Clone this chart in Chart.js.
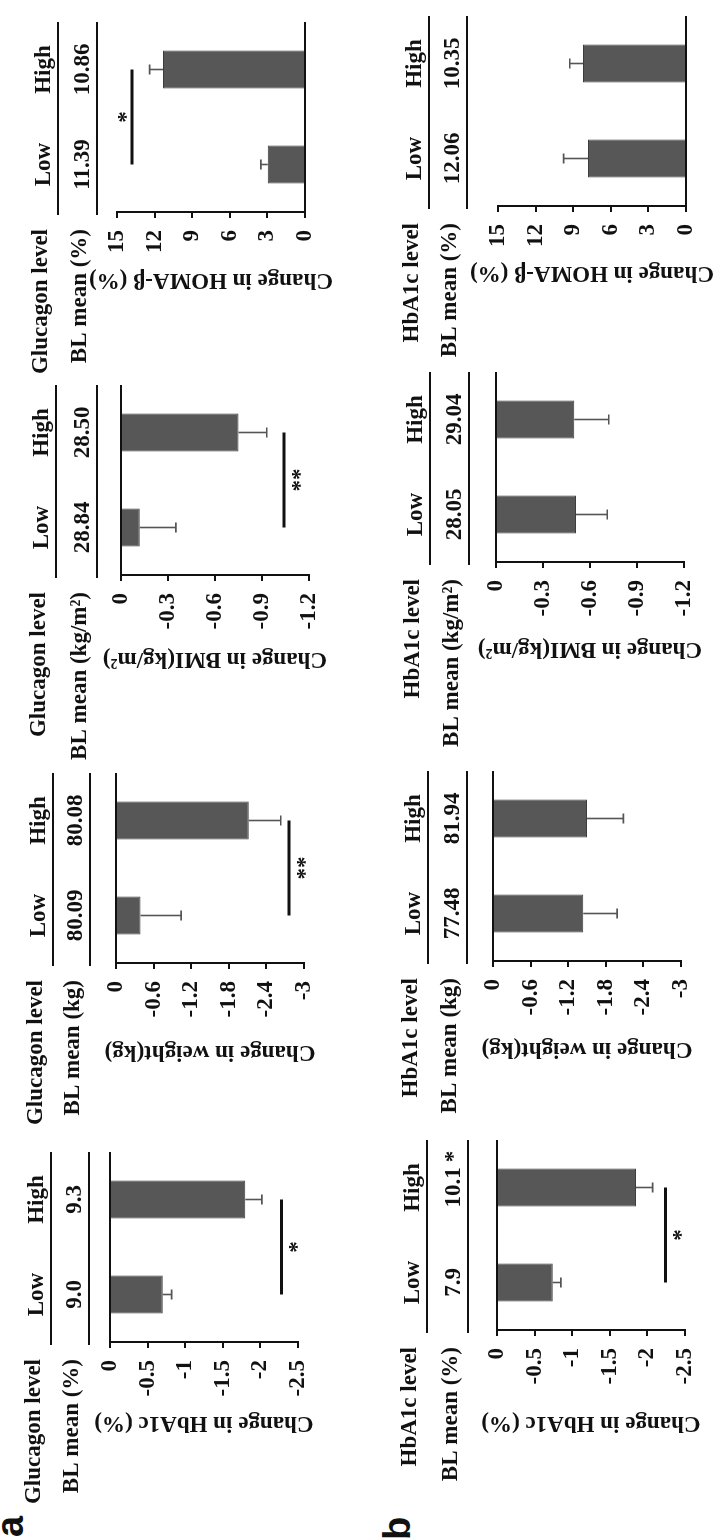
<!DOCTYPE html>
<html>
<head>
<meta charset="utf-8">
<script src="https://cdn.jsdelivr.net/npm/chart.js@4.4.1/dist/chart.umd.min.js"></script>
<style>
  html, body { margin: 0; padding: 0; background: #fff; }
  body { width: 720px; height: 1540px; overflow: hidden; position: relative; }
  /* the figure is landscape, shown turned a quarter turn */
  #figure { position: absolute; left: 0; top: 0; width: 1540px; height: 720px;
    transform-origin: 0 0; transform: translate(0, 1540px) rotate(-90deg); }
  #figure canvas { position: absolute; }
  .tag { position: absolute; font: bold 38px "Liberation Sans", Arial, sans-serif; line-height: 1; color: #111; }
</style>
</head>
<body>
<div id="figure">
  <div class="tag" style="left:3px; top:-9px">a</div>
  <div class="tag" style="left:0px; top:378px">b</div>
</div>
<script>
const groups = ['Low', 'High'];
const rowLabels = ['Glucagon level', 'HbA1c level'];

const hba1cTicks = [0, -0.5, -1, -1.5, -2, -2.5];
const weightTicks = [0, -0.6, -1.2, -1.8, -2.4, -3];
const bmiTicks = [0, -0.3, -0.6, -0.9, -1.2];
const homaTicks = [0, 3, 6, 9, 12, 15];

// a: split by glucagon level
const aHba1c = [-0.70, -1.80];
const aHba1cErr = [0.12, 0.22];
const aHba1cBL = ['9.0', '9.3'];
const aWeight = [-0.39, -2.12];
const aWeightErr = [0.65, 0.51];
const aWeightBL = ['80.09', '80.08'];
const aBmi = [-0.12, -0.75];
const aBmiErr = [0.23, 0.18];
const aBmiBL = ['28.84', '28.50'];
const aHoma = [2.98, 11.33];
const aHomaErr = [0.54, 1.07];
const aHomaBL = ['11.39', '10.86'];

// b: split by HbA1c level
const bHba1c = [-0.74, -1.85];
const bHba1cErr = [0.11, 0.22];
const bHba1cBL = ['7.9', '10.1'];
const bHba1cBLMark = ['', '*'];
const bWeight = [-1.44, -1.50];
const bWeightErr = [0.54, 0.58];
const bWeightBL = ['77.48', '81.94'];
const bBmi = [-0.51, -0.50];
const bBmiErr = [0.20, 0.22];
const bBmiBL = ['28.05', '29.04'];
const bHoma = [7.81, 8.21];
const bHomaErr = [1.95, 1.07];
const bHomaBL = ['12.06', '10.35'];

// significance bars: level on the value axis and stars
const aHba1cSig = -2.28, aHba1cStars = '*';
const aWeightSig = -2.76, aWeightStars = '**';
const aBmiSig = -1.04, aBmiStars = '**';
const aHomaSig = 13.8, aHomaStars = '*';
const bHba1cSig = -2.24, bHba1cStars = '*';

const panels = [
  { row: 0, title: 'Change in HbA1c (%)', unit: '(%)', ticks: hba1cTicks, values: aHba1c, errors: aHba1cErr, bl: aHba1cBL, sig: aHba1cSig, stars: aHba1cStars },
  { row: 0, title: 'Change in weight(kg)', unit: '(kg)', ticks: weightTicks, values: aWeight, errors: aWeightErr, bl: aWeightBL, sig: aWeightSig, stars: aWeightStars },
  { row: 0, title: 'Change in BMI(kg/m²)', unit: '(kg/m²)', ticks: bmiTicks, values: aBmi, errors: aBmiErr, bl: aBmiBL, sig: aBmiSig, stars: aBmiStars },
  { row: 0, title: 'Change in HOMA-β (%)', unit: '(%)', ticks: homaTicks, values: aHoma, errors: aHomaErr, bl: aHomaBL, sig: aHomaSig, stars: aHomaStars },
  { row: 1, title: 'Change in HbA1c (%)', unit: '(%)', ticks: hba1cTicks, values: bHba1c, errors: bHba1cErr, bl: bHba1cBL, blMark: bHba1cBLMark, sig: bHba1cSig, stars: bHba1cStars },
  { row: 1, title: 'Change in weight(kg)', unit: '(kg)', ticks: weightTicks, values: bWeight, errors: bWeightErr, bl: bWeightBL },
  { row: 1, title: 'Change in BMI(kg/m²)', unit: '(kg/m²)', ticks: bmiTicks, values: bBmi, errors: bBmiErr, bl: bBmiBL },
  { row: 1, title: 'Change in HOMA-β (%)', unit: '(%)', ticks: homaTicks, values: bHoma, errors: bHomaErr, bl: bHomaBL }
];

// where each panel sits in the landscape figure
const layout = [
  { x: 198, top: 110, l1: 51, l2: 89, titleOff: 81 },
  { x: 577, top: 116, l1: 53, l2: 90, titleOff: 89 },
  { x: 965, top: 121, l1: 56, l2: 97, titleOff: 84 },
  { x: 1328, top: 117, l1: 58, l2: 97, titleOff: 68 },
  { x: 210, top: 497, l1: 427, l2: 468, titleOff: 93 },
  { x: 579, top: 493, l1: 428, l2: 467, titleOff: 88 },
  { x: 978, top: 496, l1: 430, l2: 469, titleOff: 87 },
  { x: 1334, top: 498, l1: 429, l2: 467, titleOff: 67 }
];

const PAD = { left: 95, top: 100, right: 25, bottom: 30 };
const AXIS_W = 110, PLOT_W = 190, PLOT_H = 188;
const SERIF = '"Liberation Serif", "Times New Roman", serif';
const SIZE = 23;
const FONT = 'bold ' + SIZE + 'px ' + SERIF;
const INK = '#111';

const extras = {
  id: 'extras',
  afterDatasetsDraw(chart, args, opts) {
    const p = opts.panel, L = opts.lay;
    const ctx = chart.ctx, area = chart.chartArea;
    const xs = chart.scales.x, ys = chart.scales.y;
    const meta = chart.getDatasetMeta(0);
    ctx.save();

    // error bars, one sided, away from zero
    ctx.strokeStyle = '#555';
    ctx.lineWidth = 1.6;
    meta.data.forEach((bar, i) => {
      const v = p.values[i];
      const end = ys.getPixelForValue(v + Math.sign(v) * p.errors[i]);
      ctx.beginPath();
      ctx.moveTo(bar.x, bar.y);
      ctx.lineTo(bar.x, end);
      ctx.moveTo(bar.x - 5, end);
      ctx.lineTo(bar.x + 5, end);
      ctx.stroke();
    });

    ctx.fillStyle = INK;
    ctx.font = FONT;

    // significance line
    if (p.sig !== undefined) {
      const y = ys.getPixelForValue(p.sig);
      const x0 = xs.getPixelForValue(0), x1 = xs.getPixelForValue(1);
      ctx.strokeStyle = INK;
      ctx.lineWidth = 3;
      ctx.beginPath();
      ctx.moveTo(x0, y);
      ctx.lineTo(x1, y);
      ctx.stroke();
      ctx.textAlign = 'center';
      ctx.textBaseline = 'alphabetic';
      const below = p.sig < 0;
      ctx.fillText(p.stars, (x0 + x1) / 2, below ? y + 23 : y + 1);
    }

    // header table above the plot
    const off = L.top - PAD.top;
    const y1 = L.l1 - off, y2 = L.l2 - off;
    ctx.strokeStyle = INK;
    ctx.lineWidth = 2;
    [y1, y2].forEach(y => {
      ctx.beginPath();
      ctx.moveTo(area.left - 3, y);
      ctx.lineTo(area.right, y);
      ctx.stroke();
    });
    ctx.textBaseline = 'alphabetic';
    ctx.textAlign = 'right';
    ctx.fillText(rowLabels[p.row], area.left - 17, y1 - 11);
    ctx.fillText('BL mean ' + p.unit, area.left - 17, y2 - 11);
    ctx.textAlign = 'center';
    groups.forEach((g, i) => {
      const x = xs.getPixelForValue(i);
      ctx.fillText(g, x, y1 - 8.5);
      ctx.fillText(p.bl[i], x, y2 - 8.5);
      if (p.blMark && p.blMark[i]) {
        const w = ctx.measureText(p.bl[i]).width;
        ctx.textAlign = 'left';
        ctx.fillText(p.blMark[i], x + w / 2 + 5, y2 - 8.5);
        ctx.textAlign = 'center';
      }
    });
    ctx.restore();
  }
};

const figure = document.getElementById('figure');

panels.forEach((p, k) => {
  const L = layout[k];
  const canvas = document.createElement('canvas');
  canvas.width = PAD.left + AXIS_W + PLOT_W + PAD.right;
  canvas.height = PAD.top + PLOT_H + PAD.bottom;
  canvas.style.left = (L.x - PAD.left - AXIS_W) + 'px';
  canvas.style.top = (L.top - PAD.top) + 'px';
  figure.appendChild(canvas);

  const ticks = p.ticks.slice().sort((a, b) => a - b);

  new Chart(canvas, {
    type: 'bar',
    data: {
      labels: groups,
      datasets: [{
        data: p.values,
        backgroundColor: '#575757',
        borderColor: '#3d3d3d',
        borderWidth: 1,
        barPercentage: 0.4,
        categoryPercentage: 1
      }]
    },
    options: {
      responsive: false,
      animation: false,
      devicePixelRatio: 1,
      layout: { padding: PAD },
      plugins: {
        legend: { display: false },
        tooltip: { enabled: false },
        extras: { panel: p, lay: L }
      },
      scales: {
        x: { display: false },
        y: {
          min: ticks[0],
          max: ticks[ticks.length - 1],
          afterBuildTicks: s => { s.ticks = ticks.map(v => ({ value: v })); },
          afterFit: s => { s.width = AXIS_W; },
          ticks: {
            autoSkip: false,
            color: INK,
            padding: 12,
            font: { family: SERIF, size: SIZE, weight: 'bold' },
            callback: v => String(v)
          },
          grid: {
            color: c => (c.tick && c.tick.value === 0) ? INK : 'rgba(0,0,0,0)',
            tickColor: INK,
            lineWidth: 2,
            tickWidth: 2,
            tickLength: 6
          },
          border: { display: true, color: INK, width: 2 },
          title: {
            display: true,
            text: p.title,
            color: INK,
            font: { family: SERIF, size: SIZE, weight: 'bold' },
            padding: { top: AXIS_W - SIZE * 0.6 - L.titleOff, bottom: 0 }
          }
        }
      }
    },
    plugins: [extras]
  });
});
</script>
</body>
</html>
